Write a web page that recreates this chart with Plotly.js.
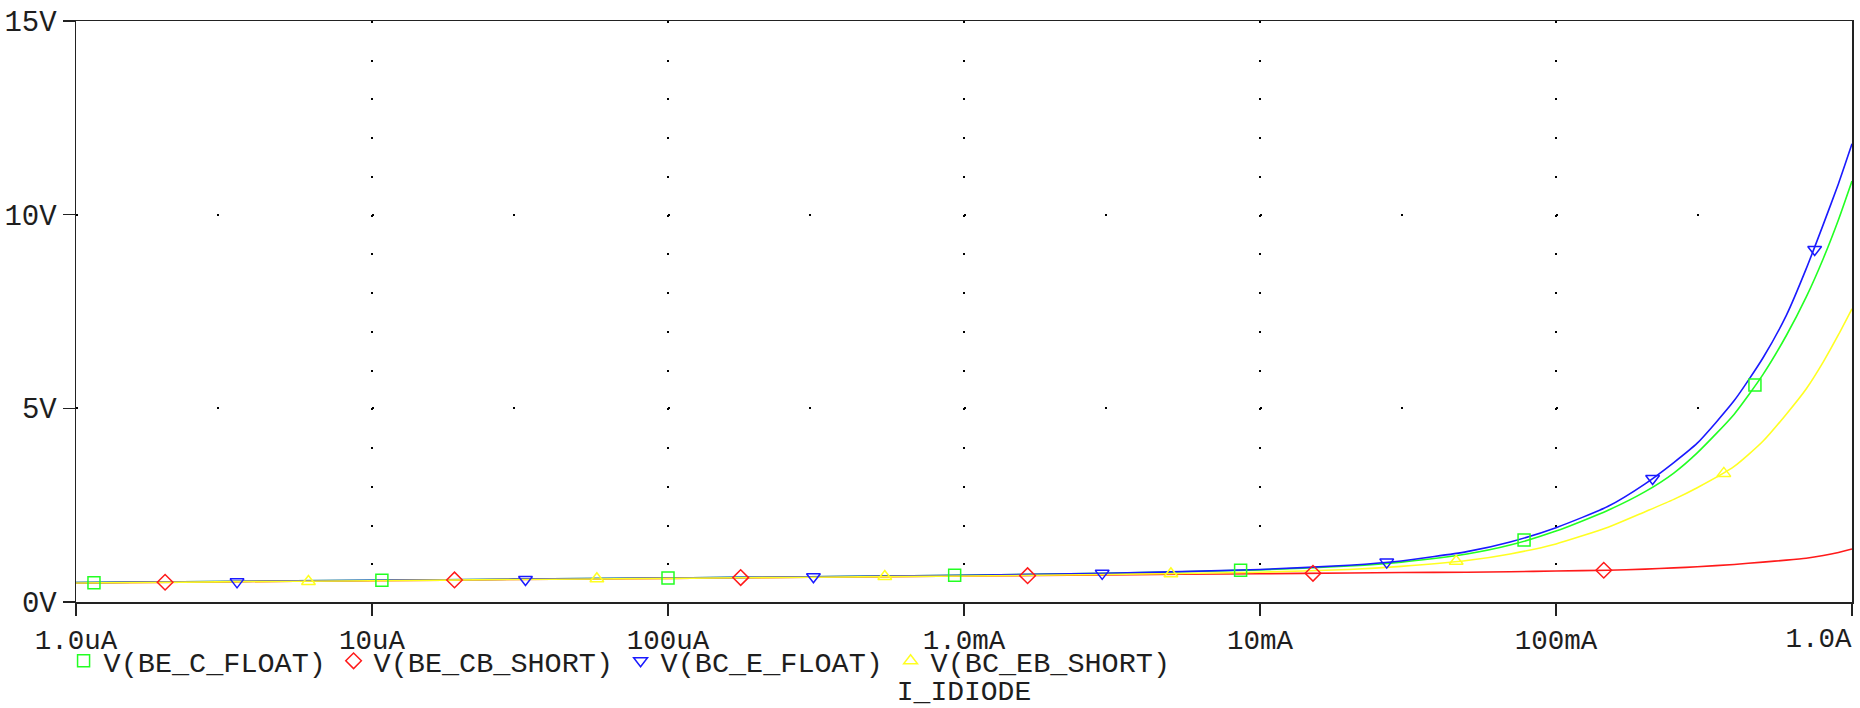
<!DOCTYPE html>
<html>
<head>
<meta charset="utf-8">
<script src="https://cdn.plot.ly/plotly-3.0.1.min.js"></script>
<style>html,body{margin:0;padding:0;background:#fff;}#chart{width:1860px;height:708px;}</style>
</head>
<body>
<div id="chart"></div>
<script>
// ---- data ----
const currentA = [1e-6, 3e-6, 1e-5, 3e-5, 1e-4, 3e-4, 1e-3, 3e-3, 1e-2, 2e-2, 3e-2, 5e-2, 7e-2, 0.1, 0.15, 0.2, 0.25, 0.3, 0.4, 0.5, 0.6, 0.7, 0.8, 0.9, 1.0];
const vBeCFloat  = [0.50,0.53,0.56,0.59,0.62,0.65,0.69,0.74,0.83,0.93,1.03,1.24,1.47,1.83,2.37,2.85,3.33,3.85,4.85,5.87,6.88,7.87,8.87,9.87,10.87];
const vBeCbShort = [0.49,0.52,0.55,0.58,0.61,0.64,0.67,0.70,0.73,0.75,0.76,0.77,0.78,0.80,0.82,0.85,0.88,0.91,0.97,1.03,1.08,1.13,1.20,1.28,1.37];
const vBcEFloat  = [0.50,0.53,0.56,0.59,0.62,0.65,0.69,0.74,0.84,0.95,1.06,1.30,1.55,1.92,2.47,3.05,3.60,4.10,5.20,6.30,7.40,8.60,9.75,10.80,11.83];
const vBcEbShort = [0.49,0.52,0.55,0.58,0.61,0.64,0.67,0.71,0.77,0.84,0.92,1.07,1.24,1.50,1.93,2.33,2.65,2.95,3.50,4.15,4.85,5.50,6.20,6.90,7.57];

// marker positions along each trace
const mkBeCFloatX  = [1.15e-6, 1.08e-5, 1.0e-4, 9.3e-4, 8.6e-3, 7.8e-2, 0.47];
const mkBeCFloatY  = [0.50, 0.56, 0.62, 0.69, 0.82, 1.60, 5.60];
const mkBeCbShortX = [2.0e-6, 1.9e-5, 1.76e-4, 1.64e-3, 1.51e-2, 0.145];
const mkBeCbShortY = [0.51, 0.57, 0.63, 0.68, 0.74, 0.82];
const mkBcEFloatX  = [3.5e-6, 3.3e-5, 3.1e-4, 2.93e-3, 2.68e-2, 0.212, 0.748];
const mkBcEFloatY  = [0.52, 0.58, 0.65, 0.74, 1.03, 3.19, 9.10];
const mkBcEbShortX = [6.1e-6, 5.75e-5, 5.4e-4, 5.0e-3, 4.6e-2, 0.369];
const mkBcEbShortY = [0.53, 0.60, 0.66, 0.73, 1.05, 3.32];

const seriesNames = ['V(BE_C_FLOAT)', 'V(BE_CB_SHORT)', 'V(BC_E_FLOAT)', 'V(BC_EB_SHORT)'];
const xTickVals = [1e-6, 1e-5, 1e-4, 1e-3, 1e-2, 1e-1, 1];
const xTickText = ['1.0uA', '10uA', '100uA', '1.0mA', '10mA', '100mA', '1.0A'];
const yTickVals = [0, 5, 10, 15];
const yTickText = ['0V', '5V', '10V', '15V'];
const xMinorGrid = 3; // dots at 3x within each decade on horizontal grid lines
const xTitle = 'I_IDIODE';

// ---- styling ----
const colors = ['#22ff22', '#ff1a1a', '#1a1aff', '#ffff22'];
const symbols = ['square-open', 'diamond-open', 'triangle-down-open', 'triangle-up-open'];
const W = 1860, H = 708;
const M = {l: 76, r: 8, t: 21, b: 106};
const plotW = W - M.l - M.r, plotH = H - M.t - M.b;
const yRange = [0, 15];
const xRangeLog = [Math.log10(xTickVals[0]), Math.log10(xTickVals[xTickVals.length - 1])];
const decadePx = plotW / (xRangeLog[1] - xRangeLog[0]);
const pxPerV = plotH / (yRange[1] - yRange[0]);
const dot = 2;
const xGridDash = dot + 'px,' + (pxPerV - dot).toFixed(3) + 'px';
const p3 = Math.log10(xMinorGrid) * decadePx;
const yGridDash = dot + 'px,' + (p3 - dot).toFixed(3) + 'px,' + dot + 'px,' + (decadePx - p3 - dot).toFixed(3) + 'px';

const last = xTickText.length - 1;
// centred labels on the main axis; the last one is right-aligned at the plot edge on an overlay axis
const xTickTextMain = xTickText.map((t, i) => i === last ? '' : t);

const font = "'Courier New', 'Nimbus Mono PS', FreeMono, 'Liberation Mono', monospace";
const textColor = '#1e1e1e';
const legendSize = 28.5;
const tickSize = 27.5;

const lineY = [vBeCFloat, vBeCbShort, vBcEFloat, vBcEbShort];
const mkX = [mkBeCFloatX, mkBeCbShortX, mkBcEFloatX, mkBcEbShortX];
const mkY = [mkBeCFloatY, mkBeCbShortY, mkBcEFloatY, mkBcEbShortY];

const traces = [];
for (let i = 0; i < 4; i++) {
  traces.push({
    x: currentA, y: lineY[i], type: 'scatter', mode: 'lines',
    line: {color: colors[i], width: 1.6, shape: 'spline', smoothing: 0.6},
    showlegend: false, hoverinfo: 'skip'
  });
}
for (let i = 0; i < 4; i++) {
  traces.push({
    x: mkX[i], y: mkY[i], type: 'scatter', mode: 'markers', name: seriesNames[i],
    marker: {symbol: symbols[i], size: 12, color: colors[i], line: {color: colors[i], width: 1.5}},
    showlegend: true,
    legendwidth: Math.round(seriesNames[i].length * 0.6 * legendSize + 3)
  });
}
// overlay axis carrying only the last tick label (right-aligned at its tick)
traces.push({x: [xTickVals[last]], y: [null], xaxis: 'x2', yaxis: 'y', type: 'scatter', mode: 'markers',
  showlegend: false, hoverinfo: 'skip', marker: {opacity: 0}});

const layout = {
  width: W, height: H,
  margin: M,
  paper_bgcolor: '#ffffff', plot_bgcolor: '#ffffff',
  font: {family: font, size: 27, color: textColor},
  showlegend: true,
  legend: {
    orientation: 'h', x: -0.007, xanchor: 'left', y: -0.102, yanchor: 'middle',
    font: {family: font, size: legendSize, color: textColor},
    bgcolor: 'rgba(0,0,0,0)', itemwidth: 30, traceorder: 'normal'
  },
  xaxis: {
    type: 'log', range: xRangeLog,
    tickmode: 'array', tickvals: xTickVals, ticktext: xTickTextMain,
    ticks: 'outside', ticklen: 12, tickwidth: 1.5, tickcolor: '#222',
    showline: true, linecolor: '#222', linewidth: 1.5, mirror: true,
    showgrid: true, gridcolor: '#000', gridwidth: dot, griddash: xGridDash,
    zeroline: false, fixedrange: true,
    tickfont: {family: font, size: tickSize, color: textColor},
    title: {text: xTitle, standoff: 43, font: {family: font, size: 28, color: textColor}},
    automargin: false
  },
  xaxis2: {
    type: 'log', range: xRangeLog, overlaying: 'x', anchor: 'y', side: 'bottom',
    tickmode: 'array', tickvals: [xTickVals[last]], ticktext: [xTickText[last]],
    ticklabelposition: 'outside left', ticks: 'outside', ticklen: 12, tickcolor: 'rgba(0,0,0,0)',
    ticklabelstandoff: 11,
    showline: false, showgrid: false, zeroline: false, fixedrange: true,
    tickfont: {family: font, size: tickSize, color: textColor},
    automargin: false
  },
  yaxis: {
    range: yRange,
    tickmode: 'array', tickvals: yTickVals, ticktext: yTickText,
    ticks: 'outside', ticklen: 12, tickwidth: 1.5, tickcolor: '#222',
    showline: true, linecolor: '#222', linewidth: 1.5, mirror: true,
    showgrid: true, gridcolor: '#000', gridwidth: dot, griddash: yGridDash,
    zeroline: false, fixedrange: true,
    tickfont: {family: font, size: 29, color: textColor},
    automargin: false
  }
};

Plotly.newPlot('chart', traces, layout, {displayModeBar: false, staticPlot: true});
</script>
</body>
</html>
